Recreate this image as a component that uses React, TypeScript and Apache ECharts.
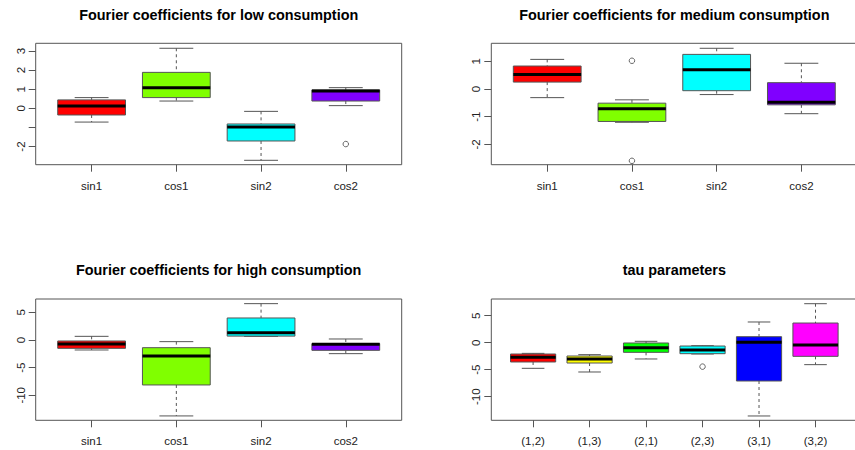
import React, { useEffect, useRef } from 'react';
import * as echarts from 'echarts';

const fourierCats = ['sin1', 'cos1', 'sin2', 'cos2'];
const tauCats = ['(1,2)', '(1,3)', '(2,1)', '(2,3)', '(3,1)', '(3,2)'];
const fourierColors = ['#FF0000', '#80FF00', '#00FFFF', '#8000FF'];
const tauColors = ['#FF0000', '#FFFF00', '#00FF00', '#00FFFF', '#0000FF', '#FF00FF'];

// low consumption
const lowWhiskerLo = [-0.72, 0.38, -2.72, 0.14];
const lowQ1 = [-0.35, 0.56, -1.71, 0.38];
const lowMedian = [0.12, 1.08, -0.98, 0.91];
const lowQ3 = [0.44, 1.88, -0.82, 0.96];
const lowWhiskerHi = [0.56, 3.14, -0.16, 1.08];
const lowOutliers = [[4, -1.87]];
const lowTicks = [-2, -1, 0, 1, 2, 3];
const lowLabels = [-2, 0, 1, 2, 3];

// medium consumption
const medWhiskerLo = [-0.31, -1.2, -0.2, -0.89];
const medQ1 = [0.25, -1.17, -0.06, -0.57];
const medMedian = [0.52, -0.71, 0.7, -0.48];
const medQ3 = [0.83, -0.51, 1.25, 0.23];
const medWhiskerHi = [1.07, -0.39, 1.47, 0.93];
const medOutliers = [[2, 1.02], [2, -2.59]];
const medTicks = [-2, -1, 0, 1];

// high consumption
const highWhiskerLo = [-1.81, -13.73, 0.66, -2.47];
const highQ1 = [-1.51, -8.13, 0.7, -1.87];
const highMedian = [-0.72, -2.89, 1.33, -0.78];
const highQ3 = [-0.18, -1.39, 3.98, -0.66];
const highWhiskerHi = [0.66, -0.3, 6.57, 0.18];
const highOutliers: number[][] = [];
const highTicks = [-10, -5, 0, 5];

// tau parameters
const tauWhiskerLo = [-4.75, -5.43, -3.02, -2.1, -13.58, -4.07];
const tauQ1 = [-3.58, -3.77, -1.79, -2.04, -7.1, -2.53];
const tauMedian = [-2.72, -3.02, -0.93, -1.36, 0.06, -0.43];
const tauQ3 = [-2.1, -2.47, -0.06, -0.62, 1.11, 3.64];
const tauWhiskerHi = [-1.98, -2.22, 0.25, -0.56, 3.83, 7.22];
const tauOutliers = [[4, -4.44]];
const tauTicks = [-10, -5, 0, 5];

const FONT = '"Liberation Sans", Arial, Helvetica, sans-serif';
const LINE = '#555';

const panels = [
  {
    title: 'Fourier coefficients for low consumption',
    cats: fourierCats, colors: fourierColors,
    lo: lowWhiskerLo, q1: lowQ1, med: lowMedian, q3: lowQ3, hi: lowWhiskerHi, out: lowOutliers,
    ticks: lowTicks, labels: lowLabels, yMin: -2.95, yMax: 3.4,
    grid: { left: 35.7, top: 43.3, width: 366, height: 121.4 }, titleX: 218.7, titleY: 15,
  },
  {
    title: 'Fourier coefficients for medium consumption',
    cats: fourierCats, colors: fourierColors,
    lo: medWhiskerLo, q1: medQ1, med: medMedian, q3: medQ3, hi: medWhiskerHi, out: medOutliers,
    ticks: medTicks, labels: medTicks, yMin: -2.73, yMax: 1.65,
    grid: { left: 491.3, top: 43.3, width: 366, height: 121.4 }, titleX: 674.3, titleY: 15,
  },
  {
    title: 'Fourier coefficients for high consumption',
    cats: fourierCats, colors: fourierColors,
    lo: highWhiskerLo, q1: highQ1, med: highMedian, q3: highQ3, hi: highWhiskerHi, out: highOutliers,
    ticks: highTicks, labels: highTicks, yMin: -14.52, yMax: 7.41,
    grid: { left: 35.7, top: 299, width: 366, height: 121.3 }, titleX: 218.7, titleY: 270,
  },
  {
    title: 'tau parameters',
    cats: tauCats, colors: tauColors,
    lo: tauWhiskerLo, q1: tauQ1, med: tauMedian, q3: tauQ3, hi: tauWhiskerHi, out: tauOutliers,
    ticks: tauTicks, labels: tauTicks, yMin: -14.38, yMax: 8.09,
    grid: { left: 491.3, top: 299, width: 366, height: 121.3 }, titleX: 674.3, titleY: 270,
  },
];

function makeRenderItem(colors: string[]) {
  return (params: any, api: any) => {
    const x = api.value(0);
    const lo = api.value(1);
    const q1 = api.value(2);
    const med = api.value(3);
    const q3 = api.value(4);
    const hi = api.value(5);
    const [xl, yq3] = api.coord([x - 0.4, q3]);
    const [xr, yq1] = api.coord([x + 0.4, q1]);
    const [xc, yhi] = api.coord([x, hi]);
    const ylo = api.coord([x, lo])[1];
    const ymed = api.coord([x, med])[1];
    const cl = api.coord([x - 0.2, med])[0];
    const cr = api.coord([x + 0.2, med])[0];
    const ls = { stroke: LINE, lineWidth: 1 };
    return {
      type: 'group',
      children: [
        { type: 'line', shape: { x1: xc, y1: yhi, x2: xc, y2: yq3 }, style: { ...ls, lineDash: [3, 3] } },
        { type: 'line', shape: { x1: xc, y1: yq1, x2: xc, y2: ylo }, style: { ...ls, lineDash: [3, 3] } },
        { type: 'line', shape: { x1: cl, y1: yhi, x2: cr, y2: yhi }, style: ls },
        { type: 'line', shape: { x1: cl, y1: ylo, x2: cr, y2: ylo }, style: ls },
        {
          type: 'rect',
          shape: { x: xl, y: yq3, width: xr - xl, height: yq1 - yq3 },
          style: { fill: colors[params.dataIndex], stroke: LINE, lineWidth: 1 },
        },
        { type: 'line', shape: { x1: xl, y1: ymed, x2: xr, y2: ymed }, style: { stroke: '#000', lineWidth: 3 } },
      ],
    };
  };
}

export default function App() {
  const ref = useRef<HTMLDivElement>(null);
  useEffect(() => {
    document.body.style.margin = '0';
    if (!ref.current) return;
    const chart = echarts.init(ref.current, undefined, { renderer: 'svg' });
    const grids: any[] = [];
    const xAxes: any[] = [];
    const yAxes: any[] = [];
    const series: any[] = [];
    const graphics: any[] = [];
    panels.forEach((p, i) => {
      const n = p.cats.length;
      grids.push({
        ...p.grid,
        show: true,
        borderColor: LINE,
        borderWidth: 1,
        backgroundColor: 'transparent',
        containLabel: false,
        outerBoundsMode: 'none',
      });
      const catIdx = p.cats.map((_, k) => k + 1);
      xAxes.push({
        gridIndex: i,
        type: 'value',
        position: 'bottom',
        min: 0.5 - 0.04 * n,
        max: n + 0.5 + 0.04 * n,
        axisLine: { show: false, onZero: false },
        splitLine: { show: false },
        axisTick: { show: true, customValues: catIdx, length: 7, lineStyle: { color: LINE } },
        axisLabel: {
          customValues: catIdx,
          formatter: (v: number) => p.cats[Math.round(v) - 1] ?? '',
          fontSize: 11.5,
          fontFamily: FONT,
          color: '#222',
          margin: 15,
        },
      });
      yAxes.push({
        gridIndex: i,
        type: 'value',
        position: 'left',
        min: p.yMin,
        max: p.yMax,
        axisLine: { show: false, onZero: false },
        splitLine: { show: false },
        axisTick: { show: true, customValues: p.ticks, length: 7, lineStyle: { color: LINE } },
        axisLabel: {
          customValues: p.labels,
          rotate: 90,
          fontSize: 11.5,
          fontFamily: FONT,
          color: '#222',
          margin: 9,
        },
      });
      series.push({
        type: 'custom',
        xAxisIndex: i,
        yAxisIndex: i,
        renderItem: makeRenderItem(p.colors),
        encode: { x: 0, y: [1, 2, 3, 4, 5] },
        data: p.cats.map((_, k) => [k + 1, p.lo[k], p.q1[k], p.med[k], p.q3[k], p.hi[k]]),
        clip: false,
      });
      series.push({
        type: 'scatter',
        xAxisIndex: i,
        yAxisIndex: i,
        symbol: 'circle',
        symbolSize: 5.5,
        itemStyle: { color: 'rgba(0,0,0,0)', borderColor: '#444', borderWidth: 1 },
        data: p.out,
        silent: true,
      });
      graphics.push({
        type: 'text',
        x: p.titleX,
        y: p.titleY,
        style: {
          text: p.title,
          fill: '#000',
          fontSize: 14.4,
          fontWeight: 'bold',
          fontFamily: FONT,
          align: 'center',
          verticalAlign: 'middle',
        },
      });
    });
    chart.setOption({
      animation: false,
      backgroundColor: '#fff',
      grid: grids,
      xAxis: xAxes,
      yAxis: yAxes,
      series,
      graphic: graphics,
    });
    return () => chart.dispose();
  }, []);
  return <div ref={ref} style={{ width: 855, height: 450, overflow: 'hidden' }} />;
}
